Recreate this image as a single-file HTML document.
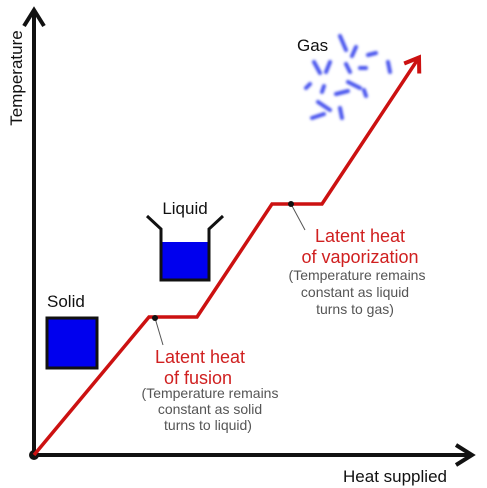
<!DOCTYPE html>
<html><head><meta charset="utf-8"><style>
body{margin:0;background:#fff}
svg{display:block;font-family:"Liberation Sans",sans-serif}
</style></head><body>
<svg width="487" height="488" viewBox="0 0 487 488">
<defs><filter id="bl"><feGaussianBlur stdDeviation="1.2"/></filter></defs>
<g id="axes">
<line x1="34" y1="456" x2="34" y2="12" stroke="#111" stroke-width="4"/>
<polyline points="24,26 34,10 44,26" fill="none" stroke="#111" stroke-width="4"/>
<line x1="32" y1="455" x2="470" y2="455" stroke="#111" stroke-width="4"/>
<polyline points="456,445 472,455 456,465" fill="none" stroke="#111" stroke-width="4"/>
<circle cx="34" cy="455" r="5" fill="#111"/>
<text x="0" y="0" transform="translate(22,78) rotate(-90)" text-anchor="middle" font-size="17" fill="#111">Temperature</text>
<text x="395" y="482" text-anchor="middle" font-size="17" fill="#111">Heat supplied</text>
</g>
<g id="curve"></g>
<g>
<text x="47" y="307" font-size="17" fill="#111">Solid</text>
<rect x="47" y="318" width="50" height="50" fill="#0000ee" stroke="#111" stroke-width="3"/>
</g>
<g>
<text x="185" y="214" text-anchor="middle" font-size="17" fill="#111">Liquid</text>
<rect x="160" y="242" width="49" height="38" fill="#0000ee"/>
<polyline points="147,216 161,229 161,280 209,280 209,229 223,216" fill="none" stroke="#111" stroke-width="3"/>
</g>
<g>
<text x="297" y="51" font-size="17" fill="#111">Gas</text>
<g stroke="#4a55ee" stroke-width="4" stroke-linecap="round" filter="url(#bl)">
<line x1="340" y1="36" x2="346" y2="50"/><line x1="356" y1="47" x2="352" y2="56"/>
<line x1="368" y1="55" x2="376" y2="53"/><line x1="314" y1="62" x2="320" y2="73"/>
<line x1="330" y1="62" x2="326" y2="72"/><line x1="346" y1="64" x2="350" y2="72"/>
<line x1="360" y1="68" x2="366" y2="68"/><line x1="388" y1="62" x2="390" y2="72"/>
<line x1="306" y1="88" x2="310" y2="84"/><line x1="322" y1="92" x2="324" y2="86"/>
<line x1="336" y1="94" x2="348" y2="91"/><line x1="348" y1="82" x2="360" y2="88"/>
<line x1="364" y1="90" x2="366" y2="96"/><line x1="318" y1="102" x2="330" y2="110"/>
<line x1="312" y1="118" x2="324" y2="114"/><line x1="340" y1="108" x2="342" y2="118"/>
</g>
</g>
<g>
<line x1="155" y1="318" x2="163" y2="345" stroke="#555" stroke-width="1"/>
<circle cx="155" cy="318" r="3" fill="#111"/>
<text x="200" y="363" text-anchor="middle" font-size="18" fill="#d02020">Latent heat</text>
<text x="198" y="384" text-anchor="middle" font-size="18" fill="#d02020">of fusion</text>
<text x="210" y="398" text-anchor="middle" font-size="14" fill="#555">(Temperature remains</text>
<text x="210" y="414" text-anchor="middle" font-size="14" fill="#555">constant as solid</text>
<text x="208" y="430" text-anchor="middle" font-size="14" fill="#555">turns to liquid)</text>
</g>
<g>
<line x1="291" y1="204" x2="305" y2="230" stroke="#555" stroke-width="1"/>
<circle cx="291" cy="204" r="3" fill="#111"/>
<text x="360" y="242" text-anchor="middle" font-size="18" fill="#d02020">Latent heat</text>
<text x="360" y="263" text-anchor="middle" font-size="18" fill="#d02020">of vaporization</text>
<text x="357" y="280" text-anchor="middle" font-size="14" fill="#555">(Temperature remains</text>
<text x="355" y="297" text-anchor="middle" font-size="14" fill="#555">constant as liquid</text>
<text x="355" y="314" text-anchor="middle" font-size="14" fill="#555">turns to gas)</text>
</g>
</svg>
<script>
const heat = [0, 23, 32.6, 47.6, 57.6, 77];
const temp = [0, 27.6, 27.6, 50.2, 50.2, 79.5];
function xs(h){return 34 + h*5;}
function ys(t){return 455 - t*5;}
const g = document.getElementById('curve');
const ns = 'http://www.w3.org/2000/svg';
const pl = document.createElementNS(ns,'polyline');


pl.setAttribute('points', heat.map((h,i)=>xs(h)+','+ys(temp[i])).join(' '));
pl.setAttribute('fill','none');pl.setAttribute('stroke','#cc1111');pl.setAttribute('stroke-width','3.5');
g.appendChild(pl);
const n = heat.length;
const ex = xs(heat[n-1]), ey = ys(temp[n-1]);
const px = xs(heat[n-2]), py = ys(temp[n-2]);
const ang = Math.atan2(ey-py, ex-px);
const L = 16;
const a1 = ang + Math.PI - 0.6, a2 = ang + Math.PI + 0.6;
const ah = document.createElementNS(ns,'polyline');


ah.setAttribute('points', (ex+L*Math.cos(a1))+','+(ey+L*Math.sin(a1))+' '+ex+','+ey+' '+(ex+L*Math.cos(a2))+','+(ey+L*Math.sin(a2)));
ah.setAttribute('fill','none');ah.setAttribute('stroke','#cc1111');ah.setAttribute('stroke-width','4');
g.appendChild(ah);
</script>
</body></html>
